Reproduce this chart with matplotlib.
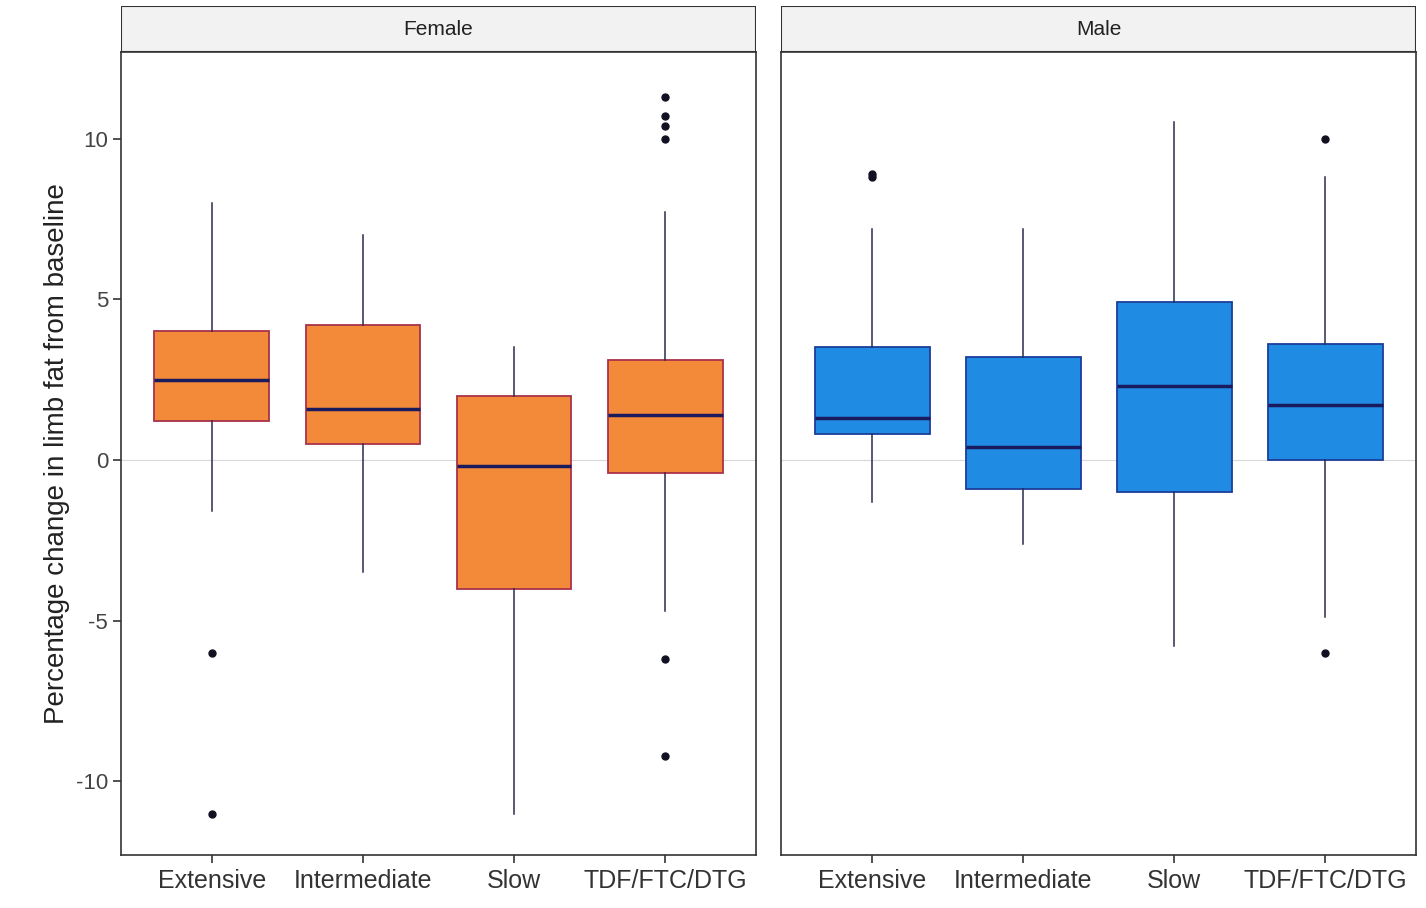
import matplotlib.pyplot as plt
from matplotlib.patches import Rectangle

groups = ["Extensive", "Intermediate", "Slow", "TDF/FTC/DTG"]
panels = ["Female", "Male"]

# box statistics: whisker low, Q1, median, Q3, whisker high
female_lo = [-1.6, -3.5, -11.0, -4.7]
female_q1 = [1.2, 0.5, -4.0, -0.4]
female_med = [2.5, 1.6, -0.2, 1.4]
female_q3 = [4.0, 4.2, 2.0, 3.1]
female_hi = [8.0, 7.0, 3.5, 7.7]
female_out = [[-6.0, -11.0], [], [], [10.0, 10.4, 10.7, 11.3, -6.2, -9.2]]

male_lo = [-1.3, -2.6, -5.8, -4.9]
male_q1 = [0.8, -0.9, -1.0, 0.0]
male_med = [1.3, 0.4, 2.3, 1.7]
male_q3 = [3.5, 3.2, 4.9, 3.6]
male_hi = [7.2, 7.2, 10.5, 8.8]
male_out = [[8.8, 8.9], [], [], [10.0, -6.0]]

fills = {"Female": "#F28A3A", "Male": "#1F8BE3"}
edges = {"Female": "#A8324A", "Male": "#1C3E9A"}

fig = plt.figure(figsize=(14.26, 9.08), dpi=100)
plt.rcParams['font.family'] = ['Liberation Sans', 'DejaVu Sans']
plt.rcParams['axes.unicode_minus'] = False

boxes = [
    (female_lo, female_q1, female_med, female_q3, female_hi, female_out),
    (male_lo, male_q1, male_med, male_q3, male_hi, male_out),
]
lefts = [0.085, 0.548]
width = 0.445

for k, name in enumerate(panels):
    ax = fig.add_axes([lefts[k], 0.058, width, 0.885])
    lo, q1, med, q3, hi, out = boxes[k]
    stats = []
    for i in range(len(groups)):
        stats.append(dict(whislo=lo[i], q1=q1[i], med=med[i], q3=q3[i],
                          whishi=hi[i], fliers=out[i], label=groups[i]))
    ax.axhline(0, color="#d8d8d8", lw=0.8, zorder=0)
    ax.bxp(stats, positions=range(1, 5), widths=0.76, patch_artist=True,
           showcaps=False,
           boxprops=dict(facecolor=fills[name], edgecolor=edges[name], lw=1.3),
           medianprops=dict(color="#1a1a5e", lw=2.5),
           whiskerprops=dict(color="#2b2b4a", lw=1.1),
           flierprops=dict(marker="o", markersize=5, markerfacecolor="#111122",
                           markeredgecolor="#111122"))
    ax.set_xlim(0.4, 4.6)
    ax.set_ylim(-12.3, 12.7)
    ax.set_yticks([-10, -5, 0, 5, 10])
    ax.set_xticks(range(1, 5))
    ax.set_xticklabels(groups, fontsize=18, color="#333333")
    ax.tick_params(axis="both", direction="out", length=6, width=1.2, color="#333333")
    ax.tick_params(axis="y", labelsize=16, labelcolor="#444444")
    for s in ax.spines.values():
        s.set_color("#333333")
        s.set_linewidth(1.2)
    if k == 0:
        ax.set_ylabel("Percentage change in limb fat from baseline", fontsize=20, color="#222222")
    else:
        ax.set_yticks([])
        ax.tick_params(axis="y", length=0)
    # facet strip
    strip = fig.add_axes([lefts[k], 0.943, width, 0.05])
    strip.add_patch(Rectangle((0, 0), 1, 1, facecolor="#f2f2f2", edgecolor="#333333", lw=1.5,
                              transform=strip.transAxes))
    strip.text(0.5, 0.5, name, ha="center", va="center", fontsize=15, color="#222222")
    strip.set_axis_off()

fig.savefig("out.png", dpi=100)
